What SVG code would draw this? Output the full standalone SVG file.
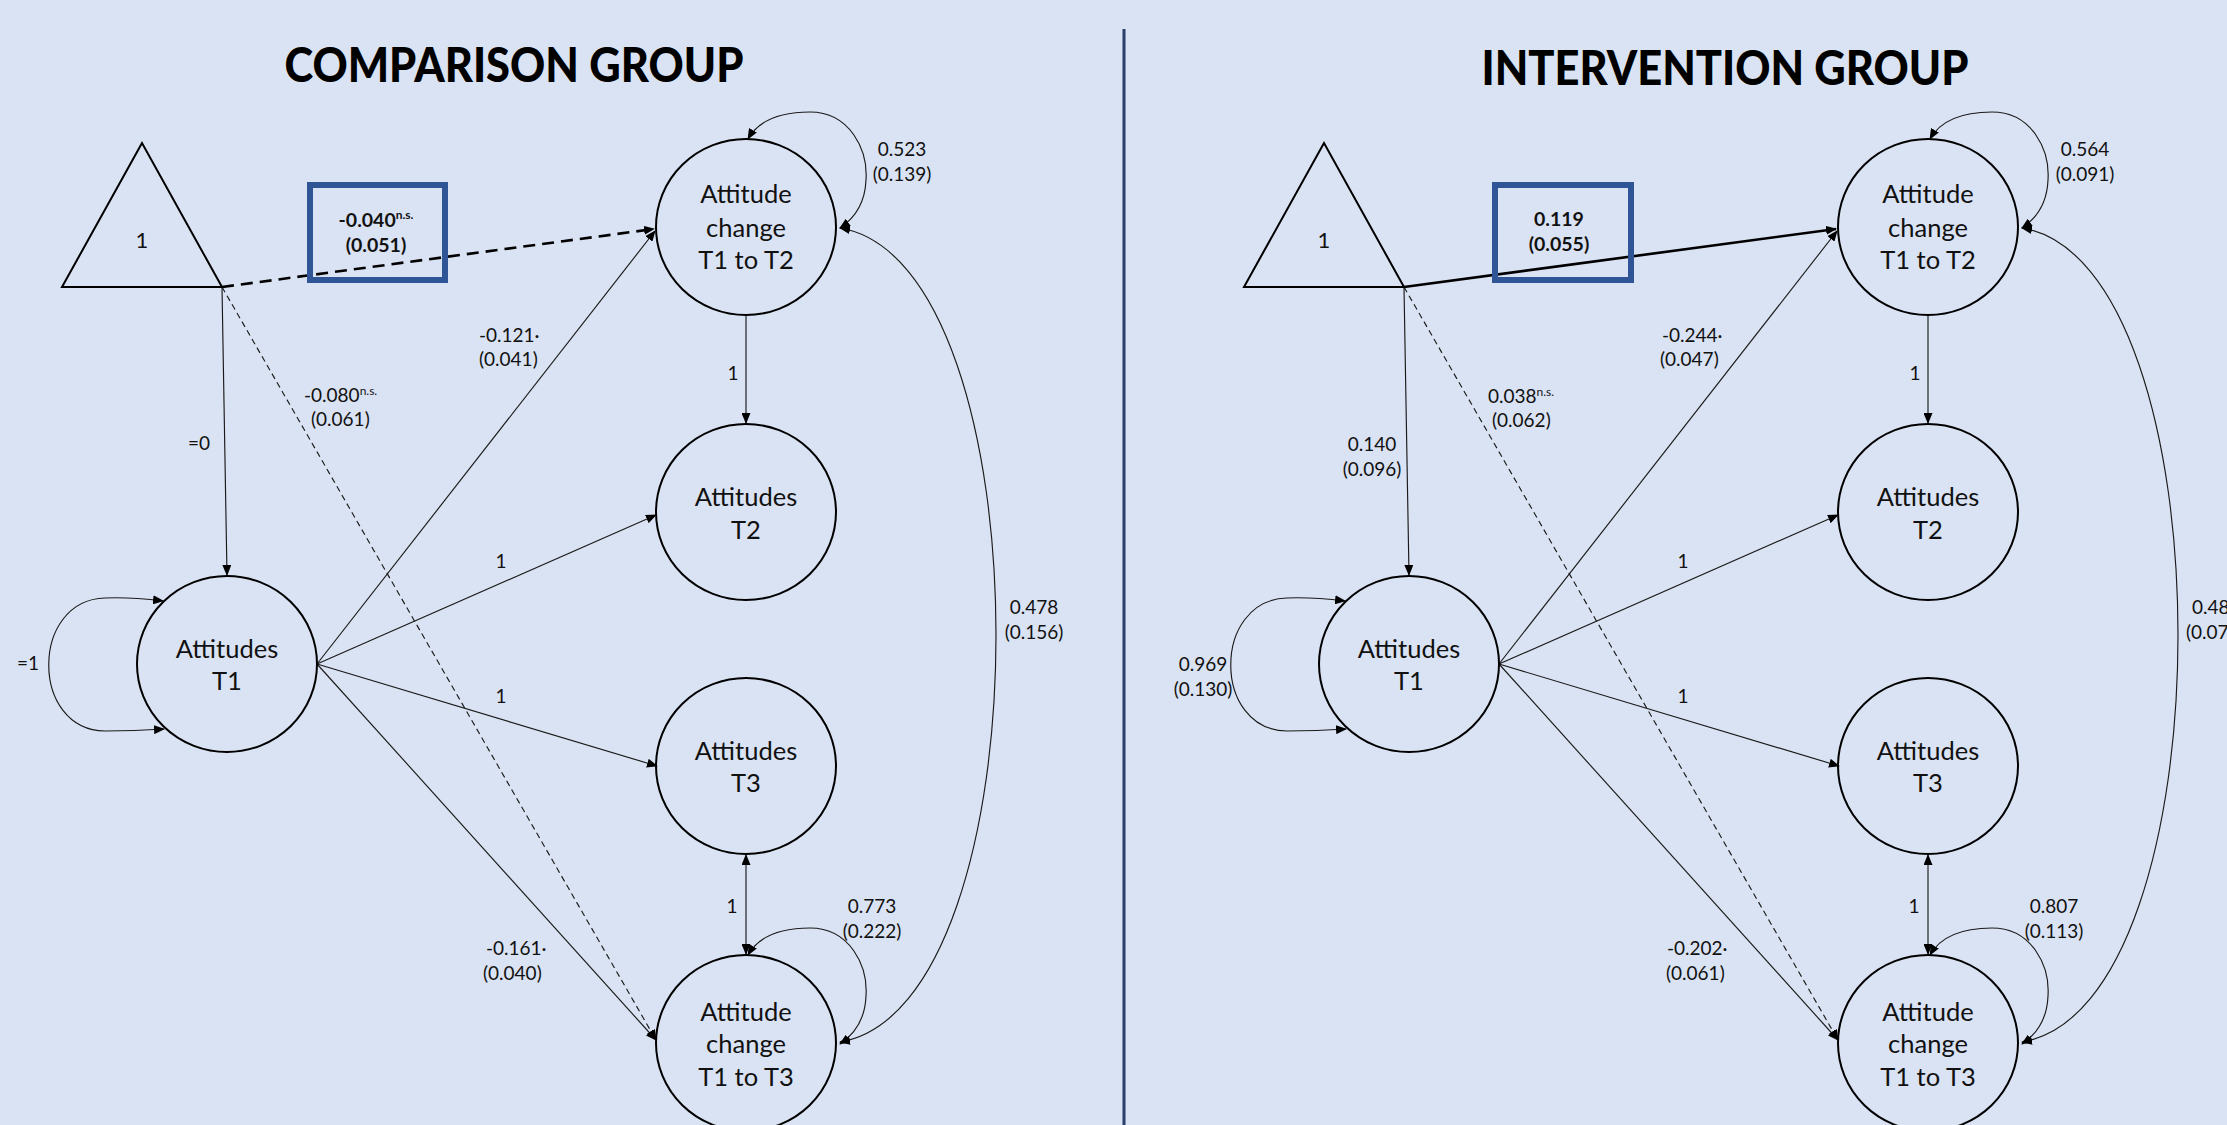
<svg xmlns="http://www.w3.org/2000/svg" width="2227" height="1125" viewBox="0 0 2227 1125">
<defs>
<style>
text{font-family:Lato,"Open Sans","Liberation Sans",sans-serif;fill:#111}
.title{font-size:47px;font-weight:900;text-anchor:middle;fill:#000}
.nt{font-size:25.5px;text-anchor:middle}
.lb{font-size:19px}
.m{text-anchor:middle}
.bx{font-size:19.5px;font-weight:bold;text-anchor:middle}
.sup{font-size:12px}
.node{fill:none;stroke:#000;stroke-width:2}
.box{fill:none;stroke:#2F5597;stroke-width:6}
.c{fill:none;stroke:#1a1a1a;stroke-width:1.15}
.d{fill:none;stroke:#1a1a1a;stroke-width:1.15;stroke-dasharray:6 4}
.thick{fill:none;stroke:#000;stroke-width:2.6}
.thickd{fill:none;stroke:#000;stroke-width:2.6;stroke-dasharray:12 7}
</style>
<marker id="a" markerUnits="userSpaceOnUse" markerWidth="11" markerHeight="9" refX="10" refY="4.5" orient="auto-start-reverse" viewBox="0 0 11 9">
<path d="M0,0 L11,4.5 L0,9 z" fill="#000"/>
</marker>
</defs>
<rect x="0" y="0" width="2227" height="1125" fill="#DAE3F3"/>
<line x1="1124" y1="29" x2="1124" y2="1125" stroke="#2B3F6B" stroke-width="3"/>
<text class="title" x="514" y="82" textLength="459" lengthAdjust="spacingAndGlyphs">COMPARISON GROUP</text>
<text class="title" x="1725" y="85" textLength="487" lengthAdjust="spacingAndGlyphs">INTERVENTION GROUP</text>

<!-- ===== COMPARISON GROUP ===== -->
<g id="comparison-connectors">
<path class="c" d="M222,287 L227,575" marker-end="url(#a)"/>
<path class="thickd" d="M222,287 L654,229" marker-end="url(#a)"/>
<path class="d" d="M222,287 L656,1040" marker-end="url(#a)"/>
<path class="c" d="M317,664 L655,231" marker-end="url(#a)"/>
<path class="c" d="M317,664 L656,515" marker-end="url(#a)"/>
<path class="c" d="M317,664 L657,766" marker-end="url(#a)"/>
<path class="c" d="M317,664 L656,1040" marker-end="url(#a)"/>
<path class="c" d="M746,315 L746,423" marker-end="url(#a)"/>
<path class="c" d="M746,855 L746,954" marker-start="url(#a)" marker-end="url(#a)"/>
<path class="c" d="M163,601 Q130,597 105,598 C30,600 30,730 105,731 Q135,731 164,729" marker-start="url(#a)" marker-end="url(#a)"/>
<path class="c" d="M748,139 C760,118 785,112 810,112 C850,112 868,150 866,180 C865,205 852,220 840,228" marker-start="url(#a)" marker-end="url(#a)"/>
<path class="c" d="M748,955 C760,934 785,928 810,928 C850,928 868,966 866,996 C865,1021 852,1036 840,1044" marker-start="url(#a)" marker-end="url(#a)"/>
<path class="c" d="M840,228 C1048,262 1048,1008 840,1042" marker-start="url(#a)" marker-end="url(#a)"/>
</g>
<g id="c-triangle">
<polygon class="node" points="142,143 62,287 222,287"/>
<text class="nt" x="142" y="248" style="font-size:22px">1</text>
</g>
<g id="c-box">
<rect class="box" x="310" y="185" width="135" height="95"/>
<text class="bx" x="376" y="227">-0.040<tspan class="sup" dy="-8">n.s.</tspan></text>
<text class="bx" x="376" y="252">(0.051)</text>
</g>
<g id="c-change12">
<ellipse class="node" cx="746" cy="227" rx="90" ry="88"/>
<text class="nt" x="746" y="203">Attitude</text>
<text class="nt" x="746" y="237">change</text>
<text class="nt" x="746" y="269">T1 to T2</text>
</g>
<g id="c-att2">
<ellipse class="node" cx="746" cy="512" rx="90" ry="88"/>
<text class="nt" x="746" y="506">Attitudes</text>
<text class="nt" x="746" y="539">T2</text>
</g>
<g id="c-att3">
<ellipse class="node" cx="746" cy="766" rx="90" ry="88"/>
<text class="nt" x="746" y="760">Attitudes</text>
<text class="nt" x="746" y="792">T3</text>
</g>
<g id="c-change13">
<ellipse class="node" cx="746" cy="1043" rx="90" ry="88"/>
<text class="nt" x="746" y="1021">Attitude</text>
<text class="nt" x="746" y="1053">change</text>
<text class="nt" x="746" y="1086">T1 to T3</text>
</g>
<g id="c-att1">
<ellipse class="node" cx="227" cy="664" rx="90" ry="88"/>
<text class="nt" x="227" y="658">Attitudes</text>
<text class="nt" x="227" y="690">T1</text>
</g>
<g id="comparison-labels">
<text class="lb m" x="902" y="156">0.523</text>
<text class="lb m" x="902" y="181">(0.139)</text>
<text class="lb" x="479" y="342">-0.121·</text>
<text class="lb" x="479" y="366">(0.041)</text>
<text class="lb" x="304" y="402">-0.080<tspan class="sup" dy="-7">n.s.</tspan></text>
<text class="lb" x="311" y="426">(0.061)</text>
<text class="lb m" x="199" y="450">=0</text>
<text class="lb m" x="28" y="670">=1</text>
<text class="lb m" x="733" y="380">1</text>
<text class="lb m" x="501" y="568">1</text>
<text class="lb m" x="501" y="703">1</text>
<text class="lb" x="486" y="955">-0.161·</text>
<text class="lb" x="483" y="980">(0.040)</text>
<text class="lb m" x="732" y="913">1</text>
<text class="lb m" x="872" y="913">0.773</text>
<text class="lb m" x="872" y="938">(0.222)</text>
<text class="lb m" x="1034" y="614">0.478</text>
<text class="lb m" x="1034" y="639">(0.156)</text>
</g>

<!-- ===== INTERVENTION GROUP ===== -->
<g id="intervention-connectors">
<path class="c" d="M1404,287 L1409,575" marker-end="url(#a)"/>
<path class="thick" d="M1404,287 L1836,229" marker-end="url(#a)"/>
<path class="d" d="M1404,287 L1838,1040" marker-end="url(#a)"/>
<path class="c" d="M1499,664 L1837,231" marker-end="url(#a)"/>
<path class="c" d="M1499,664 L1838,515" marker-end="url(#a)"/>
<path class="c" d="M1499,664 L1839,766" marker-end="url(#a)"/>
<path class="c" d="M1499,664 L1838,1040" marker-end="url(#a)"/>
<path class="c" d="M1928,315 L1928,423" marker-end="url(#a)"/>
<path class="c" d="M1928,855 L1928,954" marker-start="url(#a)" marker-end="url(#a)"/>
<path class="c" d="M1345,601 Q1312,597 1287,598 C1212,600 1212,730 1287,731 Q1317,731 1346,729" marker-start="url(#a)" marker-end="url(#a)"/>
<path class="c" d="M1930,139 C1942,118 1967,112 1992,112 C2032,112 2050,150 2048,180 C2047,205 2034,220 2022,228" marker-start="url(#a)" marker-end="url(#a)"/>
<path class="c" d="M1930,955 C1942,934 1967,928 1992,928 C2032,928 2050,966 2048,996 C2047,1021 2034,1036 2022,1044" marker-start="url(#a)" marker-end="url(#a)"/>
<path class="c" d="M2022,228 C2230,262 2230,1008 2022,1042" marker-start="url(#a)" marker-end="url(#a)"/>
</g>
<g id="i-triangle">
<polygon class="node" points="1324,143 1244,287 1404,287"/>
<text class="nt" x="1324" y="248" style="font-size:22px">1</text>
</g>
<g id="i-box">
<rect class="box" x="1495" y="185" width="136" height="95"/>
<text class="bx" x="1559" y="226">0.119</text>
<text class="bx" x="1559" y="251">(0.055)</text>
</g>
<g id="i-change12">
<ellipse class="node" cx="1928" cy="227" rx="90" ry="88"/>
<text class="nt" x="1928" y="203">Attitude</text>
<text class="nt" x="1928" y="237">change</text>
<text class="nt" x="1928" y="269">T1 to T2</text>
</g>
<g id="i-att2">
<ellipse class="node" cx="1928" cy="512" rx="90" ry="88"/>
<text class="nt" x="1928" y="506">Attitudes</text>
<text class="nt" x="1928" y="539">T2</text>
</g>
<g id="i-att3">
<ellipse class="node" cx="1928" cy="766" rx="90" ry="88"/>
<text class="nt" x="1928" y="760">Attitudes</text>
<text class="nt" x="1928" y="792">T3</text>
</g>
<g id="i-change13">
<ellipse class="node" cx="1928" cy="1043" rx="90" ry="88"/>
<text class="nt" x="1928" y="1021">Attitude</text>
<text class="nt" x="1928" y="1053">change</text>
<text class="nt" x="1928" y="1086">T1 to T3</text>
</g>
<g id="i-att1">
<ellipse class="node" cx="1409" cy="664" rx="90" ry="88"/>
<text class="nt" x="1409" y="658">Attitudes</text>
<text class="nt" x="1409" y="690">T1</text>
</g>
<g id="intervention-labels">
<text class="lb m" x="2085" y="156">0.564</text>
<text class="lb m" x="2085" y="181">(0.091)</text>
<text class="lb" x="1662" y="342">-0.244·</text>
<text class="lb" x="1660" y="366">(0.047)</text>
<text class="lb" x="1488" y="403">0.038<tspan class="sup" dy="-7">n.s.</tspan></text>
<text class="lb" x="1492" y="427">(0.062)</text>
<text class="lb m" x="1372" y="451">0.140</text>
<text class="lb m" x="1372" y="476">(0.096)</text>
<text class="lb m" x="1203" y="671">0.969</text>
<text class="lb m" x="1203" y="696">(0.130)</text>
<text class="lb m" x="1915" y="380">1</text>
<text class="lb m" x="1683" y="568">1</text>
<text class="lb m" x="1683" y="703">1</text>
<text class="lb" x="1667" y="955">-0.202·</text>
<text class="lb" x="1666" y="980">(0.061)</text>
<text class="lb m" x="1914" y="913">1</text>
<text class="lb m" x="2054" y="913">0.807</text>
<text class="lb m" x="2054" y="938">(0.113)</text>
<text class="lb" x="2192" y="614">0.48</text>
<text class="lb" x="2186" y="639">(0.07</text>
</g>
</svg>
